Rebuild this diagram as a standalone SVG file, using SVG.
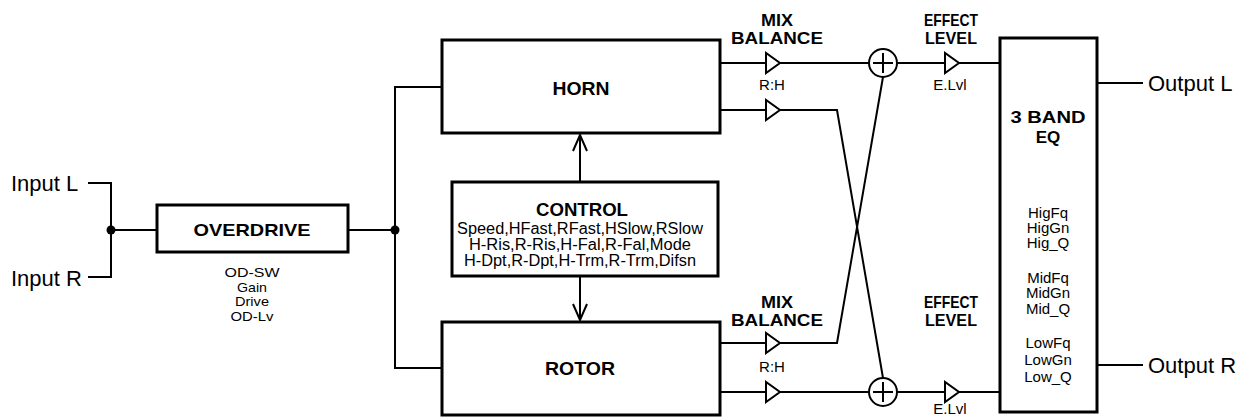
<svg xmlns="http://www.w3.org/2000/svg" width="1243" height="420" viewBox="0 0 1243 420">
<style>
.box{fill:#fff;stroke:#000;stroke-width:3}
.w{fill:none;stroke:#000;stroke-width:2}
.amp{fill:#fff;stroke:#000;stroke-width:2;stroke-linejoin:miter}
.b{font-family:"Liberation Sans",Arial,sans-serif;font-weight:bold;font-size:17px;text-anchor:middle;fill:#000}
.r{font-family:"Liberation Sans",Arial,sans-serif;font-size:15px;text-anchor:middle;fill:#000}
.od{font-family:"Liberation Sans",Arial,sans-serif;font-size:13px;text-anchor:middle;fill:#000}
.io{font-family:"Liberation Sans",Arial,sans-serif;font-size:22px;fill:#000}
</style>
<defs>
<polygon id="tri" class="amp" points="0,-10 0,10 14,0"/>
<g id="sum"><circle r="14" fill="#fff" stroke="#000" stroke-width="2"/><path d="M-10,0H10M0,-10V10" stroke="#000" stroke-width="2"/></g>
</defs>
<rect width="1243" height="420" fill="#fff"/>

<g id="connectors">
<path class="w" d="M88,183H111V277H88"/>
<path class="w" d="M111,230H157"/>
<circle cx="111" cy="230" r="4.5" fill="#000"/>
<path class="w" d="M348,230H395"/>
<path class="w" d="M442,87H395V368H442"/>
<circle cx="395" cy="230" r="4.5" fill="#000"/>
<path class="w" d="M580,182V135M573,151L580,135L587,151"/>
<path class="w" d="M580,276V320M573,304L580,320L587,304"/>
<path class="w" d="M720,63H766M780,63H869M897,63H945M959,63H1000"/>
<path class="w" d="M720,110H766M780,110H837L883,378"/>
<path class="w" d="M720,343H766M780,343H837L883,77"/>
<path class="w" d="M720,392H766M780,392H869M897,392H945M959,392H1000"/>
<path class="w" d="M1097,83H1143M1097,365H1143"/>
</g>

<g id="inputs">
<text class="io" x="11" y="191">Input L</text>
<text class="io" x="11" y="286">Input R</text>
</g>

<g id="overdrive">
<rect class="box" x="157" y="205" width="191" height="47"/>
<text class="b" x="252" y="236" textLength="117" lengthAdjust="spacingAndGlyphs">OVERDRIVE</text>
<text class="od" x="252" y="277" textLength="55" lengthAdjust="spacingAndGlyphs">OD-SW</text>
<text class="od" x="252" y="291.5" textLength="30" lengthAdjust="spacingAndGlyphs">Gain</text>
<text class="od" x="252" y="306" textLength="34" lengthAdjust="spacingAndGlyphs">Drive</text>
<text class="od" x="252" y="320.5" textLength="43" lengthAdjust="spacingAndGlyphs">OD-Lv</text>
</g>

<g id="horn">
<rect class="box" x="442" y="40" width="278" height="93"/>
<text class="b" x="581" y="95" style="font-size:19px" textLength="57" lengthAdjust="spacingAndGlyphs">HORN</text>
</g>

<g id="rotor">
<rect class="box" x="442" y="322" width="278" height="93"/>
<text class="b" x="580" y="375" style="font-size:19px" textLength="70" lengthAdjust="spacingAndGlyphs">ROTOR</text>
</g>

<g id="control">
<rect class="box" x="452" y="182" width="266" height="94"/>
<text class="b" x="582" y="216" style="font-size:18px" textLength="92" lengthAdjust="spacingAndGlyphs">CONTROL</text>
<text class="r" x="580" y="234" style="font-size:16px" textLength="246" lengthAdjust="spacingAndGlyphs">Speed,HFast,RFast,HSlow,RSlow</text>
<text class="r" x="580" y="250" style="font-size:16px" textLength="222" lengthAdjust="spacingAndGlyphs">H-Ris,R-Ris,H-Fal,R-Fal,Mode</text>
<text class="r" x="580" y="266" style="font-size:16px" textLength="232" lengthAdjust="spacingAndGlyphs">H-Dpt,R-Dpt,H-Trm,R-Trm,Difsn</text>
</g>

<g id="mix-top">
<text class="b" x="777" y="26" textLength="32" lengthAdjust="spacingAndGlyphs">MIX</text>
<text class="b" x="777" y="44" textLength="92" lengthAdjust="spacingAndGlyphs">BALANCE</text>
<use href="#tri" x="766" y="63"/>
<text class="r" x="772" y="90">R:H</text>
</g>
<g id="mix-horn2"><use href="#tri" x="766" y="110"/></g>

<g id="mix-bottom">
<text class="b" x="777" y="308" textLength="32" lengthAdjust="spacingAndGlyphs">MIX</text>
<text class="b" x="777" y="326" textLength="92" lengthAdjust="spacingAndGlyphs">BALANCE</text>
<use href="#tri" x="766" y="343"/>
<text class="r" x="772" y="372">R:H</text>
</g>
<g id="mix-rotor2"><use href="#tri" x="766" y="392"/></g>

<g id="sum-top"><use href="#sum" x="883" y="63"/></g>
<g id="sum-bottom"><use href="#sum" x="883" y="392"/></g>

<g id="level-top">
<text class="b" x="951" y="26" textLength="54" lengthAdjust="spacingAndGlyphs">EFFECT</text>
<text class="b" x="951" y="44" textLength="52" lengthAdjust="spacingAndGlyphs">LEVEL</text>
<use href="#tri" x="945" y="63"/>
<text class="r" x="950" y="90">E.Lvl</text>
</g>

<g id="level-bottom">
<text class="b" x="951" y="308" textLength="54" lengthAdjust="spacingAndGlyphs">EFFECT</text>
<text class="b" x="951" y="326" textLength="52" lengthAdjust="spacingAndGlyphs">LEVEL</text>
<use href="#tri" x="945" y="392"/>
<text class="r" x="950" y="414">E.Lvl</text>
</g>

<g id="eq">
<rect class="box" x="1000" y="38" width="97" height="374"/>
<text class="b" x="1048" y="123" textLength="75" lengthAdjust="spacingAndGlyphs">3 BAND</text>
<text class="b" x="1048" y="143">EQ</text>
<text class="r" x="1048" y="218">HigFq</text>
<text class="r" x="1048" y="233">HigGn</text>
<text class="r" x="1048" y="248">Hig_Q</text>
<text class="r" x="1048" y="283">MidFq</text>
<text class="r" x="1048" y="298">MidGn</text>
<text class="r" x="1048" y="314">Mid_Q</text>
<text class="r" x="1048" y="348">LowFq</text>
<text class="r" x="1048" y="365">LowGn</text>
<text class="r" x="1048" y="382">Low_Q</text>
</g>

<g id="outputs">
<text class="io" x="1148" y="91">Output L</text>
<text class="io" x="1148" y="373">Output R</text>
</g>
</svg>
